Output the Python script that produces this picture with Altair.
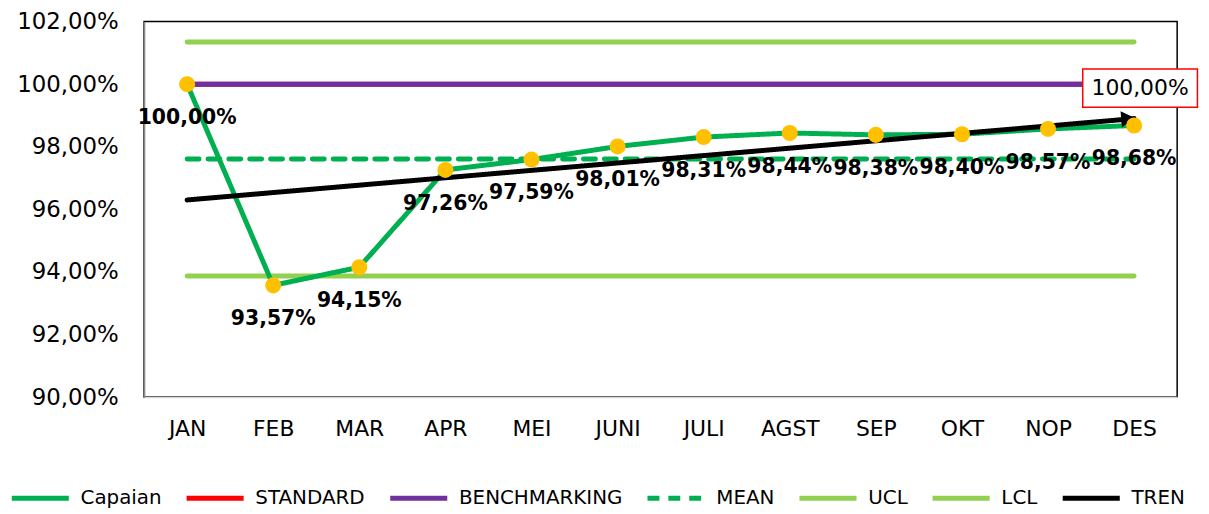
import altair as alt
import pandas as pd

months = ["JAN", "FEB", "MAR", "APR", "MEI", "JUNI", "JULI", "AGST", "SEP", "OKT", "NOP", "DES"]
capaian = [100.00, 93.57, 94.15, 97.26, 97.59, 98.01, 98.31, 98.44, 98.38, 98.40, 98.57, 98.68]
standard_val = 100.0
benchmark_val = 100.0
mean_val = 97.61
ucl_val = 101.35
lcl_val = 93.87
trend_months = ["JAN", "DES"]
trend_vals = [96.30, 98.90]
standard_label = "100,00%"

series = ["Capaian", "STANDARD", "BENCHMARKING", "MEAN", "UCL", "LCL", "TREN"]
colors = ["#00B050", "#FF0000", "#7030A0", "#00B050", "#92D050", "#92D050", "#000000"]
dashes = [[1, 0], [1, 0], [1, 0], [12, 9], [1, 0], [1, 0], [1, 0]]
widths = [5, 5, 5, 5, 5, 5, 2.5]

FONT = "DejaVu Sans"


def const_df(name, val):
    return pd.DataFrame({"month": months, "value": [val] * len(months), "series": name})


cap_df = pd.DataFrame({"month": months, "value": capaian, "series": "Capaian"})
trend_df = pd.DataFrame({"month": trend_months, "value": trend_vals, "series": "TREN"})

x_enc = alt.X("month:N", sort=months, scale=alt.Scale(domain=months, padding=0.5),
              axis=alt.Axis(title=None, labelAngle=0, ticks=False, domainColor="#D9D9D9",
                            domainWidth=1.5, labelFontSize=22, labelPadding=22, labelFont=FONT,
                            labelColor="black"))
y_enc = alt.Y("value:Q", scale=alt.Scale(domain=[90, 102], nice=False, zero=False),
              axis=alt.Axis(title=None, values=[90, 92, 94, 96, 98, 100, 102], grid=False,
                            ticks=False, domainColor="#8C8C8C", domainWidth=1.5,
                            labelFontSize=23, labelPadding=26, labelFont=FONT, labelColor="black",
                            labelExpr="replace(format(datum.value, '.2f'), '.', ',') + '%'"))
color_enc = alt.Color("series:N", scale=alt.Scale(domain=series, range=colors),
                      legend=alt.Legend(title=None, orient="none", direction="horizontal",
                                        legendX=-136, legendY=448, symbolType="stroke",
                                        symbolSize=3300, symbolStrokeWidth=5,
                                        labelFontSize=20, labelFont=FONT, labelColor="black",
                                        labelOffset=9, columnPadding=14, labelLimit=300))
dash_enc = alt.StrokeDash("series:N", scale=alt.Scale(domain=series, range=dashes), legend=None)
width_enc = alt.StrokeWidth("series:N", scale=alt.Scale(domain=series, range=widths), legend=None)


def line_layer(df):
    return alt.Chart(df).mark_line(strokeCap="round").encode(
        x=x_enc, y=y_enc, color=color_enc, strokeDash=dash_enc, strokeWidth=width_enc)


layers = [
    line_layer(const_df("UCL", ucl_val)),
    line_layer(const_df("LCL", lcl_val)),
    line_layer(const_df("MEAN", mean_val)),
    line_layer(const_df("STANDARD", standard_val)),
    line_layer(const_df("BENCHMARKING", benchmark_val)),
    line_layer(cap_df),
    line_layer(trend_df),
]

arrow = alt.Chart(trend_df.tail(1)).mark_point(
    shape="triangle-right", filled=True, color="black", size=260, angle=355, opacity=1
).encode(x=x_enc, y=y_enc, xOffset=alt.value(-6))

points = alt.Chart(cap_df).mark_point(
    filled=True, color="#FFC000", size=260, opacity=1
).encode(x=x_enc, y=y_enc)

labels = alt.Chart(cap_df).transform_calculate(
    lbl="replace(format(datum.value, '.2f'), '.', ',') + '%'"
).mark_text(fontWeight="bold", fontSize=20.5, font=FONT, dy=34, color="black").encode(
    x=x_enc, y=y_enc, text="lbl:N")

box_df = pd.DataFrame({"month": ["DES"], "value": [standard_val], "lbl": [standard_label]})
box = alt.Chart(box_df).mark_point(
    shape="M-1.5,-0.5H1.5V0.5H-1.5Z", size=5929, filled=True, fill="white",
    stroke="#FF0000", strokeWidth=1.5, opacity=1, clip=False
).encode(x=x_enc, y=y_enc, xOffset=alt.value(6), yOffset=alt.value(4))
box_text = alt.Chart(box_df).mark_text(fontSize=22, font=FONT, color="black", clip=False).encode(
    x=x_enc, y=y_enc, text="lbl:N", xOffset=alt.value(6), yOffset=alt.value(4))

chart = alt.layer(*layers, arrow, points, labels, box, box_text).properties(
    width=1040, height=378,
    autosize=alt.AutoSizeParams(type="none"),
    padding={"left": 137, "top": 12, "right": 24, "bottom": 114},
).configure(
    background="white",
    view=alt.ViewConfig(stroke="black", strokeWidth=1.5),
)

chart.save("out.html", embed_options={"renderer": "svg", "actions": False})
